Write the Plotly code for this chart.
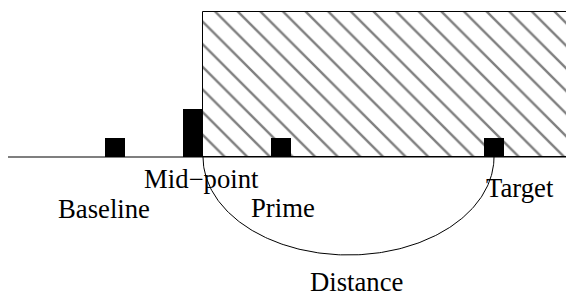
import numpy as np
import plotly.graph_objects as go

# ---- data (diagram units: x ~ horizontal position, y = height above the axis line) ----
labels = ["Baseline", "Mid\u2212point", "Prime", "Target"]
bar_x = [115, 193, 281, 494]
bar_h = [19, 48, 19, 19]
bar_w = 20

region_x = [203, 580]      # hatched region extent
region_h = 145

axis_x = [8, 574]          # horizontal line

arc_x = [203, 494]         # arc end points
arc_depth = 98

label_x = [104, 201, 283, 519.5]
label_y = [-51.5, -22, -51, -31]
dist_label = "Distance"
dist_x, dist_y = 356.5, -124.5

FONT = "Liberation Serif, Times New Roman, serif"

fig = go.Figure()

# hatched region
fig.add_trace(go.Bar(
    x=[(region_x[0] + region_x[1]) / 2], y=[region_h], base=0,
    width=[region_x[1] - region_x[0]],
    marker=dict(color="white", line=dict(color="black", width=1),
                pattern=dict(shape="\\", fgcolor="black", bgcolor="white",
                             size=16, solidity=0.15)),
    hoverinfo="skip", showlegend=False))

# black bars
fig.add_trace(go.Bar(
    x=bar_x, y=bar_h, base=0, width=[bar_w] * len(bar_x),
    marker=dict(color="black", line=dict(width=0)),
    hoverinfo="skip", showlegend=False))

# axis line
fig.add_trace(go.Scatter(x=axis_x, y=[0, 0], mode="lines",
                         line=dict(color="black", width=1.2),
                         hoverinfo="skip", showlegend=False))

# half-ellipse arc
cx = (arc_x[0] + arc_x[1]) / 2
rx = (arc_x[1] - arc_x[0]) / 2
t = np.linspace(np.pi, 2 * np.pi, 200)
fig.add_trace(go.Scatter(x=cx + rx * np.cos(t), y=arc_depth * np.sin(t),
                         mode="lines", line=dict(color="black", width=1),
                         hoverinfo="skip", showlegend=False))

for lab, lx, ly in zip(labels, label_x, label_y):
    fig.add_annotation(x=lx, y=ly, text=lab, showarrow=False,
                       xanchor="center", yanchor="middle",
                       font=dict(family=FONT, size=26.7, color="black"))
fig.add_annotation(x=dist_x, y=dist_y, text=dist_label, showarrow=False,
                   xanchor="center", yanchor="middle",
                   font=dict(family=FONT, size=26.7, color="black"))

# page body has an 8px margin: the figure covers page pixels 8..574 / 8..295
fig.update_layout(
    width=566, height=287, margin=dict(l=0, r=0, t=0, b=0),
    paper_bgcolor="white", plot_bgcolor="white",
    barmode="overlay", bargap=0,
    xaxis=dict(range=[8, 574], visible=False, showgrid=False, zeroline=False),
    yaxis=dict(range=[-138, 149], visible=False, showgrid=False, zeroline=False),
)

fig.write_html("out.html")
